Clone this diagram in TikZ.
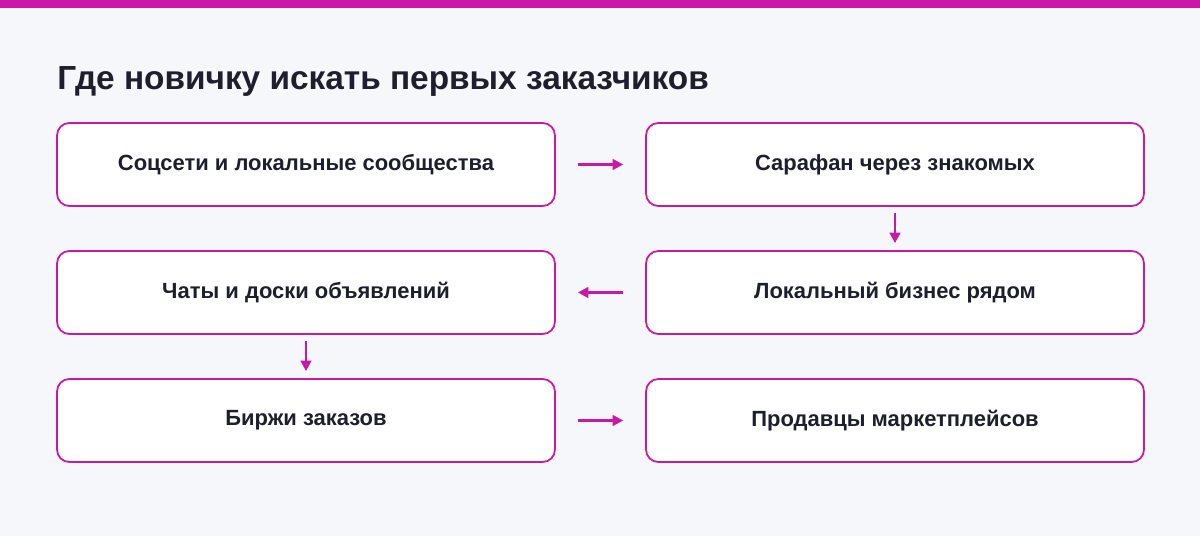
\documentclass[tikz,border=0pt]{standalone}
\usepackage{fontspec}
\setmainfont{Liberation Sans}
\usetikzlibrary{arrows.meta, positioning}
\definecolor{accent}{HTML}{C918A8}
\definecolor{bgcol}{HTML}{F6F7FB}
\definecolor{ink}{HTML}{1E1F2E}

\begin{document}
\begin{tikzpicture}[x=0.02cm,y=-0.02cm,>={Triangle[length=6pt,width=6pt]}]
    \tikzstyle{stepbox}=[draw=accent, line width=1pt, fill=white, rounded corners=7pt,
        minimum width=9.96cm, minimum height=1.66cm, text=ink, font=\bfseries\fontsize{12.5}{15}\selectfont]
    \tikzstyle{link}=[->, draw=accent, fill=accent, line width=1.6pt]

    % background and top bar
    \fill[bgcol] (0,0) rectangle (1200,536);
    \fill[accent] (0,0) rectangle (1200,8);
    \useasboundingbox (0,0) rectangle (1200,536);

    % title
    \node[anchor=base west, inner sep=0pt, text=ink, font=\bfseries\fontsize{19}{23}\selectfont] (title) at (57,90) {Где новичку искать первых заказчиков};

    % the six boxes
    \node[stepbox] (S-1) at (306,164.5) {Соцсети и локальные сообщества};
    \node[stepbox] (S-2) at (895,164.5) {Сарафан через знакомых};
    \node[stepbox] (S-3) at (895,292.5) {Локальный бизнес рядом};
    \node[stepbox] (S-4) at (306,292.5) {Чаты и доски объявлений};
    \node[stepbox] (S-5) at (306,420.5) {Биржи заказов};
    \node[stepbox] (S-6) at (895,420.5) {Продавцы маркетплейсов};

    % connectors
    \draw[link] ([xshift=0.44cm]S-1.east) -- ([xshift=-0.44cm]S-2.west);
    \draw[link] ([yshift=-0.12cm]S-2.south) -- ([yshift=0.14cm]S-3.north);
    \draw[link] ([xshift=-0.44cm]S-3.west) -- ([xshift=0.44cm]S-4.east);
    \draw[link] ([yshift=-0.12cm]S-4.south) -- ([yshift=0.14cm]S-5.north);
    \draw[link] ([xshift=0.44cm]S-5.east) -- ([xshift=-0.44cm]S-6.west);
\end{tikzpicture}
\end{document}
